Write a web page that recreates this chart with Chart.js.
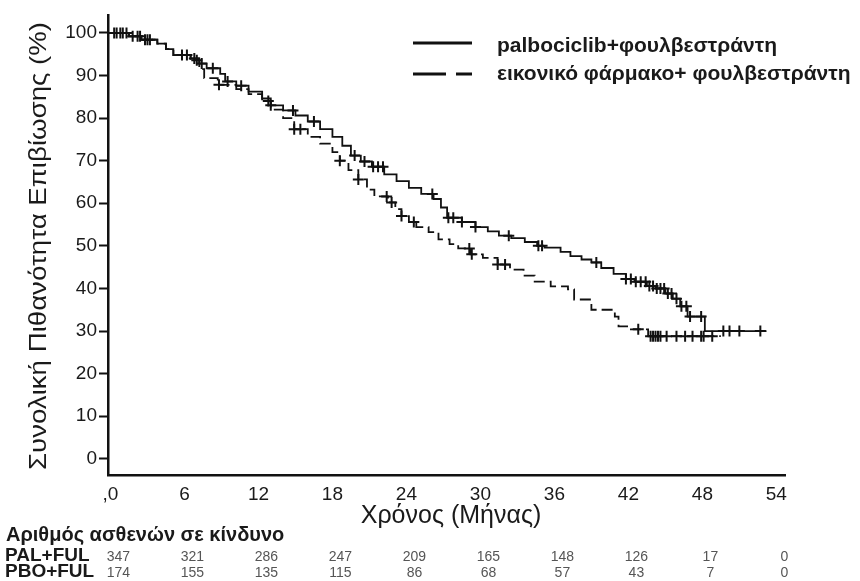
<!DOCTYPE html>
<html>
<head>
<meta charset="utf-8">
<script src="https://cdn.jsdelivr.net/npm/chart.js@4.4.1/dist/chart.umd.min.js"></script>
<style>
  body { margin: 0; background: #fff; }
  #wrap { width: 860px; height: 581px; }
</style>
</head>
<body>
<div id="wrap"><canvas id="mycanvas" width="860" height="581"></canvas></div>
<script>
// series names
var palLabel = 'palbociclib+φουλβεστράντη';
var pboLabel = 'εικονικό φάρμακο+ φουλβεστράντη';

// KM step points (months, survival %)
var palTime = [0, 1.5, 2.5, 3.8, 4.5, 5.1, 6.5, 7.2, 7.8, 8.9, 9.3, 10.2, 11.2, 12.3, 13, 14, 15, 16, 17, 18, 18.8, 19.5, 20.3, 21.2, 22.2, 23.2, 24.2, 25.2, 26.2, 26.8, 27.3, 28.5, 29.6, 30.6, 31.5, 32.5, 33.6, 34.6, 35.2, 36.5, 37.3, 38.2, 39, 39.8, 40.8, 41.8, 42.5, 43.5, 44.2, 45, 45.6, 46.2, 46.8, 48.2, 53.2];
var palSurv = [100, 99.2, 98.4, 97.5, 96.2, 94.8, 94, 92.8, 91.7, 90.4, 88.6, 87.6, 86.2, 84.6, 83, 81.8, 80.6, 79.2, 77.4, 75.6, 73.5, 71.2, 69.8, 68.6, 66.8, 65.2, 63.6, 62.2, 61, 59, 56.6, 55.6, 54.4, 53.4, 52.4, 51.8, 50.9, 50, 49.6, 48.6, 47.6, 46.8, 46.1, 44.8, 43.4, 42.2, 41.6, 40.6, 40, 38.8, 37.6, 35.8, 33.4, 30, 30];
var pboTime = [0, 1.5, 2.5, 3.8, 4.5, 5.1, 6.5, 7.2, 7.6, 8.7, 10.2, 11.2, 12.3, 13, 14, 14.9, 16, 17, 18, 18.6, 19.3, 20.1, 20.8, 21.4, 22.5, 23.1, 23.6, 24.2, 24.8, 25.8, 26.6, 27.5, 28.2, 29.2, 30.2, 31.4, 32.4, 33.5, 34.4, 35.7, 37.1, 37.6, 39, 40.9, 41.2, 42, 43.6, 49.5];
var pboSurv = [100, 99.2, 98.4, 97.5, 96.2, 94.8, 93.6, 91.5, 89.4, 87.8, 86.8, 85.6, 84, 82, 80, 77.4, 75.6, 74, 72, 70, 67.8, 65.6, 63.2, 61.6, 60.2, 58.6, 57, 55.6, 54.4, 53.2, 51.5, 50.4, 49.4, 48, 47.2, 45.6, 44.4, 43, 41.6, 40.5, 39.8, 37.4, 35, 33.4, 31.1, 30.4, 28.8, 28.8];

// censoring times (months)
var palCensor = [0.3, 0.8, 1.3, 2.2, 2.8, 3.2, 5.8, 6.8, 7.4, 8.3, 9.5, 10.6, 13.0, 14.8, 16.5, 19.8, 20.6, 21.3, 21.7, 22.1, 26.1, 27.4, 27.8, 28.5, 29.6, 32.3, 34.7, 35.0, 39.4, 41.8, 42.2, 42.6, 43.0, 43.4, 43.7, 44.0, 44.3, 44.6, 44.9, 45.2, 45.5, 45.9, 46.3, 46.7, 47.0, 47.9, 49.7, 50.2, 51.0, 52.7];
var pboCensor = [0.5, 1.0, 1.8, 2.4, 3.0, 6.2, 7.0, 8.8, 12.8, 14.9, 15.4, 18.6, 20.1, 22.4, 22.8, 23.6, 24.6, 29.1, 29.3, 31.4, 32.0, 42.8, 43.8, 44.0, 44.2, 44.4, 44.6, 45.1, 45.9, 46.6, 47.2, 47.9, 48.1, 48.8];

// axis ticks
var xTicks = [0, 6, 12, 18, 24, 30, 36, 42, 48, 54];
var yTicks = [0, 10, 20, 30, 40, 50, 60, 70, 80, 90, 100];

// number at risk
var riskTitle = 'Αριθμός ασθενών σε κίνδυνο';
var riskRows = ['PAL+FUL', 'PBO+FUL'];
var palRisk = [347, 321, 286, 247, 209, 165, 148, 126, 17, 0];
var pboRisk = [174, 155, 135, 115, 86, 68, 57, 43, 7, 0];

var xTitle = 'Χρόνος (Μήνας)';
var yTitle = 'Συνολική Πιθανότητα Επιβίωσης (%)';

var FONT = '"Liberation Sans", Arial, sans-serif';

function toPoints(t, s) {
  var out = [];
  for (var i = 0; i < t.length; i++) out.push({x: t[i], y: s[i]});
  return out;
}
function survAt(t, s, m) {
  var v = s[0];
  for (var i = 0; i < t.length; i++) { if (t[i] <= m) v = s[i]; }
  return v;
}
function censorPoints(c, t, s) {
  var out = [];
  for (var i = 0; i < c.length; i++) out.push({x: c[i], y: survAt(t, s, c[i])});
  return out;
}
// draw text centred at (0,0), stretched along its run to a given length
function fitText(ctx, text, len) {
  var w = ctx.measureText(text).width;
  ctx.save();
  ctx.scale(len / w, 1);
  ctx.fillText(text, 0, 0);
  ctx.restore();
}

var extras = {
  id: 'extras',
  afterDraw: function (chart) {
    var ctx = chart.ctx;
    var xs = chart.scales.x;
    ctx.save();
    ctx.fillStyle = '#1a1a1a';
    ctx.strokeStyle = '#111';

    // legend
    ctx.lineWidth = 3;
    ctx.beginPath(); ctx.moveTo(413, 43); ctx.lineTo(472, 43); ctx.stroke();
    ctx.beginPath(); ctx.moveTo(413, 74); ctx.lineTo(446, 74); ctx.moveTo(456, 74); ctx.lineTo(472, 74); ctx.stroke();
    ctx.font = 'bold 21px ' + FONT;
    ctx.textAlign = 'left';
    ctx.textBaseline = 'middle';
    ctx.fillText(palLabel, 497, 46);
    ctx.fillText(pboLabel, 497, 74);

    // y title
    ctx.save();
    ctx.translate(39, 246);
    ctx.rotate(-Math.PI / 2);
    ctx.textAlign = 'center';
    ctx.font = '24px ' + FONT;
    fitText(ctx, yTitle, 448);
    ctx.restore();

    // x title
    ctx.textAlign = 'center';
    ctx.font = '25px ' + FONT;
    ctx.fillText(xTitle, 451, 516);

    // risk table
    ctx.textAlign = 'left';
    ctx.font = 'bold 20px ' + FONT;
    ctx.fillText(riskTitle, 6, 535);
    ctx.font = 'bold 19px ' + FONT;
    ctx.fillText(riskRows[0], 5, 556);
    ctx.fillText(riskRows[1], 5, 572);
    ctx.textAlign = 'center';
    ctx.fillStyle = '#555';
    ctx.font = '14px "Liberation Sans Narrow", ' + FONT;
    for (var i = 0; i < xTicks.length; i++) {
      var px = xs.getPixelForValue(xTicks[i]);
      ctx.fillText(String(palRisk[i]), px + 8, 557);
      ctx.fillText(String(pboRisk[i]), px + 8, 573);
    }
    ctx.restore();
  }
};

var ctx = document.getElementById('mycanvas').getContext('2d');
var myChart = new Chart(ctx, {
  type: 'line',
  data: {
    datasets: [{
      label: palLabel,
      data: toPoints(palTime, palSurv),
      stepped: true,
      borderColor: '#111',
      borderWidth: 1.8,
      pointRadius: 0,
      fill: false
    }, {
      label: pboLabel,
      data: toPoints(pboTime, pboSurv),
      stepped: true,
      borderColor: '#111',
      borderWidth: 1.8,
      borderDash: [11, 5],
      pointRadius: 0,
      fill: false
    }, {
      type: 'scatter',
      label: 'pal censored',
      data: censorPoints(palCensor, palTime, palSurv),
      showLine: false,
      pointStyle: 'cross',
      pointRadius: 5.5,
      borderColor: '#111',
      borderWidth: 2
    }, {
      type: 'scatter',
      label: 'pbo censored',
      data: censorPoints(pboCensor, pboTime, pboSurv),
      showLine: false,
      pointStyle: 'cross',
      pointRadius: 5.5,
      borderColor: '#111',
      borderWidth: 2
    }]
  },
  options: {
    responsive: false,
    animation: false,
    layout: { padding: { top: 15, right: 75, left: 0, bottom: 0 } },
    plugins: { legend: { display: false }, tooltip: { enabled: false } },
    scales: {
      x: {
        type: 'linear',
        min: -0.2,
        max: 54.7,
        afterBuildTicks: function (scale) {
          scale.ticks = xTicks.map(function (v) { return {value: v}; });
        },
        afterFit: function (scale) { scale.height = 106; },
        grid: { display: true, drawOnChartArea: false, drawTicks: false },
        border: { display: true, color: '#111', width: 2.5 },
        ticks: {
          color: '#1a1a1a',
          font: { family: FONT, size: 19 },
          padding: 8,
          maxRotation: 0,
          autoSkip: false,
          callback: function (v) { return v === 0 ? ',0' : String(v); }
        }
      },
      y: {
        min: -3.8,
        max: 104.2,
        afterBuildTicks: function (scale) {
          scale.ticks = yTicks.map(function (v) { return {value: v}; });
        },
        afterFit: function (scale) { scale.width = 108; },
        grid: { display: true, drawOnChartArea: false, drawTicks: true, tickLength: 9, tickWidth: 2, tickColor: '#111' },
        border: { display: true, color: '#111', width: 2.5 },
        ticks: {
          color: '#1a1a1a',
          font: { family: FONT, size: 19 },
          padding: 2
        }
      }
    }
  },
  plugins: [extras]
});
</script>
</body>
</html>
